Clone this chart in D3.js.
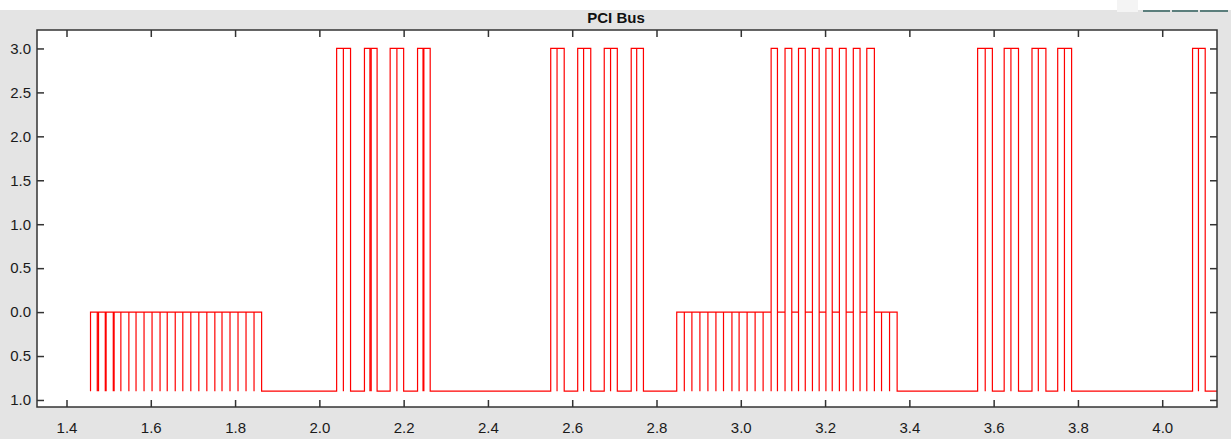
<!DOCTYPE html>
<html>
<head>
<meta charset="utf-8">
<script src="https://cdn.jsdelivr.net/npm/d3@7"></script>
<style>
  html, body { margin: 0; padding: 0; background: #ffffff; }
  svg { display: block; }
  .tick text { font-family: "Liberation Sans", Arial, sans-serif; font-size: 15px; fill: #1a1a1a; }
</style>
</head>
<body>
<script>
// ---- data ----
const LOW = -0.9;
const xTicks = [1.4, 1.6, 1.8, 2.0, 2.2, 2.4, 2.6, 2.8, 3.0, 3.2, 3.4, 3.6, 3.8, 4.0];
const yTicks = [3.0, 2.5, 2.0, 1.5, 1.0, 0.5, 0.0, -0.5, -1.0];
const yTickLabels = ["3.0", "2.5", "2.0", "1.5", "1.0", "0.5", "0.0", "0.5", "1.0"];

// level changes of the bus signal: [time, new level]
const transitions = [
  [1.457, LOW], [1.457, 0], [1.863, LOW],
  [2.041, 3], [2.074, LOW], [2.107, 3], [2.137, LOW],
  [2.168, 3], [2.200, LOW], [2.233, 3], [2.263, LOW],
  [2.549, 3], [2.581, LOW], [2.613, 3], [2.644, LOW],
  [2.676, 3], [2.707, LOW], [2.740, 3], [2.769, LOW],
  [2.848, 0],
  [3.072, 3], [3.087, 0], [3.105, 3], [3.121, 0], [3.137, 3], [3.153, 0],
  [3.170, 3], [3.186, 0], [3.202, 3], [3.217, 0], [3.234, 3], [3.250, 0],
  [3.267, 3], [3.283, 0], [3.299, 3], [3.317, 0],
  [3.371, LOW],
  [3.562, 3], [3.597, LOW], [3.625, 3], [3.659, LOW],
  [3.691, 3], [3.724, LOW], [3.752, 3], [3.785, LOW],
  [4.072, 3], [4.102, LOW],
  [4.130, LOW]
];

// instantaneous drops to the low level
const dips = [
  1.473, 1.476, 1.492, 1.494, 1.511, 1.513, 1.529, 1.548, 1.565, 1.584, 1.603, 1.622,
  1.639, 1.658, 1.676, 1.695, 1.714, 1.733, 1.752, 1.769, 1.788, 1.807, 1.826, 1.845,
  2.057, 2.120, 2.123, 2.184, 2.246, 2.248,
  2.564, 2.627, 2.691, 2.753,
  2.866, 2.884, 2.903, 2.922, 2.941, 2.959, 2.979, 2.996, 3.015, 3.034, 3.053,
  3.072, 3.087, 3.105, 3.121, 3.137, 3.153, 3.170, 3.186, 3.202, 3.217, 3.234, 3.250,
  3.267, 3.283, 3.299, 3.317, 3.334, 3.353,
  3.580, 3.641, 3.706, 3.768,
  4.086
];

// ---- build step points ----
const events = [];
transitions.forEach(([t, v], i) => events.push({t, v, kind: "step", i}));
dips.forEach((t, i) => events.push({t, kind: "dip", i}));
events.sort((a, b) => a.t - b.t || (a.kind === "dip" ? -1 : 1) || a.i - b.i);
const points = [];
let level = LOW;
let k = 0;
while (k < events.length) {
  const e = events[k];
  if (e.kind === "dip") {
    points.push([e.t, LOW]);
    // level after any step at the same instant
    let j = k + 1, lv = level;
    while (j < events.length && events[j].t === e.t && events[j].kind === "step") { lv = events[j].v; j++; }
    level = lv;
    points.push([e.t, level]);
    k = j;
  } else {
    level = e.v;
    points.push([e.t, level]);
    k++;
  }
}

// ---- layout ----
const W = 1231, H = 439;
const plot = {left: 37, top: 30, right: 1217, bottom: 407};

const svg = d3.select("body").append("svg").attr("width", W).attr("height", H);
svg.append("rect").attr("x", 0).attr("y", 0).attr("width", W).attr("height", H).attr("fill", "#e4e4e4");
svg.append("rect").attr("x", 0).attr("y", 0).attr("width", W).attr("height", 10).attr("fill", "#ffffff");
svg.append("rect").attr("x", 1117).attr("y", 0).attr("width", 21).attr("height", 12).attr("fill", "#f4f4f4");
[[1143, 1170], [1172, 1198], [1200, 1228]].forEach(([a, b]) => {
  svg.append("line").attr("x1", a).attr("x2", b).attr("y1", 11).attr("y2", 11)
    .attr("stroke", "#2e5c5a").attr("stroke-width", 1.5);
});

const x = d3.scaleLinear().domain([1.33, 4.13]).range([plot.left, plot.right]);
const y = d3.scaleLinear().domain([-1.08, 3.21]).range([plot.bottom, plot.top]);

svg.append("rect")
  .attr("x", plot.left).attr("y", plot.top)
  .attr("width", plot.right - plot.left).attr("height", plot.bottom - plot.top)
  .attr("fill", "#ffffff");

// title
svg.append("text").attr("x", 616).attr("y", 23).attr("text-anchor", "middle")
  .attr("font-family", "Liberation Sans, Arial, sans-serif").attr("font-weight", "bold")
  .attr("font-size", 15).attr("fill", "#111").text("PCI Bus");

// signal
const clip = svg.append("clipPath").attr("id", "clip").append("rect")
  .attr("x", plot.left).attr("y", plot.top)
  .attr("width", plot.right - plot.left).attr("height", plot.bottom - plot.top);

const line = d3.line().x(d => x(d[0])).y(d => y(d[1])).curve(d3.curveStepAfter);
svg.append("path").datum(points)
  .attr("clip-path", "url(#clip)")
  .attr("d", line).attr("fill", "none")
  .attr("stroke", "#ff0000").attr("stroke-width", 1.2);

// axes
function styleAxis(g) {
  g.select(".domain").remove();
  g.selectAll(".tick line").attr("stroke", "#333").attr("stroke-width", 1.5);
}
svg.append("g").attr("transform", `translate(0,${plot.bottom})`)
  .call(d3.axisBottom(x).tickValues(xTicks).tickFormat(d3.format(".1f"))
    .tickSizeInner(-7).tickSizeOuter(0).tickPadding(15))
  .call(styleAxis);
svg.append("g").attr("transform", `translate(0,${plot.top})`)
  .call(d3.axisTop(x).tickValues(xTicks).tickFormat("").tickSizeInner(-7).tickSizeOuter(0))
  .call(styleAxis);
svg.append("g").attr("transform", `translate(${plot.left},0)`)
  .call(d3.axisLeft(y).tickValues(yTicks).tickFormat((d, i) => yTickLabels[i])
    .tickSizeInner(-7).tickSizeOuter(0).tickPadding(6))
  .call(styleAxis);
svg.append("g").attr("transform", `translate(${plot.right},0)`)
  .call(d3.axisRight(y).tickValues(yTicks).tickFormat("").tickSizeInner(-7).tickSizeOuter(0))
  .call(styleAxis);

// frame
svg.append("rect")
  .attr("x", plot.left).attr("y", plot.top)
  .attr("width", plot.right - plot.left).attr("height", plot.bottom - plot.top)
  .attr("fill", "none").attr("stroke", "#333").attr("stroke-width", 1.5);
</script>
</body>
</html>
